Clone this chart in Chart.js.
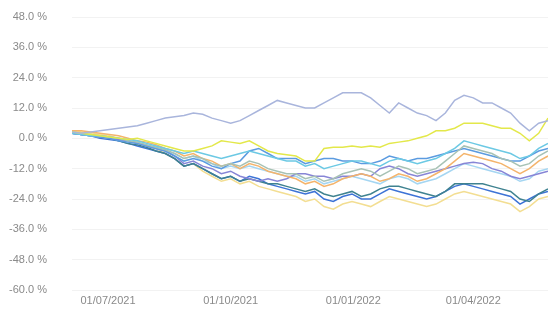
<!DOCTYPE html>
<html>
<head>
<meta charset="utf-8">
<script src="https://cdn.jsdelivr.net/npm/chart.js@4"></script>
<style>
html,body{margin:0;padding:0;background:#fff;}
#wrap{width:555px;height:311px;position:relative;}
</style>
</head>
<body>
<div id="wrap"><canvas id="c" width="555" height="311"></canvas></div>
<script>
// Weekly observation dates
const dates = [
"2021-06-04","2021-06-11","2021-06-18","2021-06-25",
"2021-07-02","2021-07-09","2021-07-16","2021-07-23","2021-07-30",
"2021-08-06","2021-08-13","2021-08-20","2021-08-27",
"2021-09-03","2021-09-10","2021-09-17","2021-09-24",
"2021-10-01","2021-10-08","2021-10-15","2021-10-22","2021-10-29",
"2021-11-05","2021-11-12","2021-11-19","2021-11-26",
"2021-12-03","2021-12-10","2021-12-17","2021-12-24","2021-12-31",
"2022-01-07","2022-01-14","2022-01-21","2022-01-28",
"2022-02-04","2022-02-11","2022-02-18","2022-02-25",
"2022-03-04","2022-03-11","2022-03-18","2022-03-25",
"2022-04-01","2022-04-08","2022-04-15","2022-04-22","2022-04-29",
"2022-05-06","2022-05-13","2022-05-20","2022-05-27"
];

// Tick dates and tick labels for the x axis
const tickDates = ["2021-07-01","2021-10-01","2022-01-01","2022-04-01"];
const tickLabels = ["01/07/2021","01/10/2021","01/01/2022","01/04/2022"];

// Y ticks (percent)
const yTicks = [48,36,24,12,0,-12,-24,-36,-48,-60];

// Series values (% performance)
const seriesA = [2.5,2,2.5,3,3.5,4,4.5,5,6,7,8,8.5,9,10,9.5,8,7,6,7,9,11,13,15,14,13,12,12,14,16,18,18,18,16,13,10,14,12,10,9,7,10,15,17,16,14,14,12,10,6,3,6,7];
const seriesB = [2.5,2,1.5,1,0.5,0,-0.5,0,-1,-2,-3,-4,-5,-5,-4,-3,-1,-1.5,-2,-1,-3,-5,-6,-6.5,-7,-9,-9,-4,-3.5,-3.5,-3,-3.5,-3,-3.5,-2,-1.5,-1,0,1,3,3,4,6,6,6,5,4,4,2,-1,2,8];
const seriesC = [2,1.5,1,1,0.5,0,-0.5,-1,-2,-3,-4,-5,-6,-5,-6,-7,-8,-7,-6,-5,-6,-7,-8,-9,-9,-11,-10,-12,-11,-10,-9,-9,-10,-11,-9,-8,-9,-10,-9,-8,-6,-4,-1,-2,-3,-4,-5,-6,-8,-7,-4,-2];
const seriesD = [2.5,2,1.5,1,0.5,0,-1,-1.5,-2.5,-3.5,-4.5,-6,-8,-7,-8,-10,-11,-10,-11,-9,-10,-12,-13,-14,-14,-16,-15,-17,-16,-14,-13,-12,-13,-15,-13,-11,-12,-14,-13,-12,-9,-6,-3,-4,-5,-6,-8,-9,-11,-10,-7,-5];
const seriesE = [3,3,2.5,2,1.5,1,0,-1,-1.5,-2.5,-4,-5,-7,-6,-8,-9,-11,-10,-12,-10,-11,-13,-14,-15,-16,-18,-17,-19,-18,-16,-15,-14,-15,-17,-16,-14,-15,-17,-16,-14,-12,-9,-6,-7,-8,-9,-10,-12,-14,-12,-9,-7];
const seriesF = [2,1.5,1,0.5,0,-1,-1.5,-2,-3,-4,-5,-7,-9,-8,-9,-11,-12,-10,-9,-5,-4,-6,-8,-8,-8,-10,-9,-8,-8,-9,-9,-10,-10,-9,-7,-8,-9,-8,-8,-7,-6,-5,-4,-5,-6,-7,-8,-9,-9,-7,-5,-4];
const seriesG = [2,1.5,1,0.5,0,-0.5,-1,-2,-3,-4,-5,-7,-10,-9,-11,-12,-14,-13,-15,-16,-17,-16,-17,-16,-14,-14,-15,-15,-16,-15,-15,-14,-15,-12,-11,-12,-14,-15,-14,-13,-12,-11,-10,-9.5,-10,-12,-13,-15,-16,-15,-14,-13];
const seriesH = [2,1.5,1,0.5,0,-1,-2,-2.5,-3.5,-5,-6,-8,-11,-10,-12,-14,-16,-15,-17,-16,-17,-18,-18,-19,-20,-21,-20,-22,-23,-22,-21,-23,-22,-20,-19,-19,-20,-21,-22,-23,-21,-18,-18,-18,-18,-19,-20,-21,-24,-25,-22,-20];
const seriesK = [2,1.5,1,0,-0.5,-1,-2,-3,-4,-5,-6,-8,-11,-10,-12,-14,-16,-15,-17,-15,-16,-18,-19,-20,-21,-22,-21,-24,-25,-23,-22,-24,-24,-22,-20,-21,-22,-23,-24,-23,-21,-19,-18,-19,-20,-21,-22,-23,-26,-24,-22,-21];
const seriesI = [3,2.5,2,1.5,1,0,-1,-1.5,-3,-4,-6,-8,-11,-10,-13,-15,-17,-16,-18,-17,-19,-20,-21,-22,-23,-25,-24,-27,-28,-26,-25,-26,-27,-25,-23,-24,-25,-26,-27,-26,-24,-22,-21,-22,-23,-24,-25,-26,-29,-27,-24,-23];
const seriesJ = [2,1.5,1,0.5,0,-0.5,-1.5,-2,-3,-4,-5,-6,-8,-7,-9,-10,-12,-11,-12,-11,-12,-13,-14,-15,-15,-17,-16,-18,-17,-16,-15,-16,-17,-18,-16,-15,-16,-18,-17,-16,-14,-12,-10,-11,-12,-13,-14,-15,-17,-16,-13,-12];

const seriesList = [
  {data: seriesA, color: "#a9b5dc"},
  {data: seriesB, color: "#e3e84a"},
  {data: seriesC, color: "#6cc9e4"},
  {data: seriesD, color: "#a7c2b5"},
  {data: seriesE, color: "#f4b46c"},
  {data: seriesF, color: "#5b9be0"},
  {data: seriesG, color: "#8785d6"},
  {data: seriesJ, color: "#a5d6f2"},
  {data: seriesH, color: "#3f8290"},
  {data: seriesK, color: "#3d73d6"},
  {data: seriesI, color: "#f3de92"}
];

const toT = s => Date.parse(s + "T00:00:00Z");
const xs = dates.map(toT);
const tickTs = tickDates.map(toT);

const datasets = seriesList.map(s => ({
  data: s.data.map((v, i) => ({x: xs[i], y: v})),
  borderColor: s.color,
  backgroundColor: s.color,
  borderWidth: 1.5,
  pointRadius: 0,
  tension: 0,
  fill: false
}));

new Chart(document.getElementById("c"), {
  type: "line",
  data: {datasets},
  options: {
    responsive: false,
    animation: false,
    events: [],
    layout: {padding: {left: 0, right: 7, top: 17, bottom: 0}},
    plugins: {legend: {display: false}, tooltip: {enabled: false}},
    scales: {
      x: {
        type: "linear",
        min: xs[0],
        max: xs[xs.length - 1],
        grid: {display: false, drawTicks: false},
        border: {display: false},
        afterBuildTicks: axis => { axis.ticks = tickTs.map(v => ({value: v})); },
        afterFit: axis => { axis.height = 21; },
        ticks: {
          autoSkip: false,
          maxRotation: 0,
          padding: 4,
          color: "#8a8a8a",
          font: {family: "Liberation Sans, Arial, sans-serif", size: 11},
          callback: (v) => { const k = tickTs.indexOf(v); return k >= 0 ? tickLabels[k] : ""; }
        }
      },
      y: {
        min: -60,
        max: 48,
        afterBuildTicks: axis => { axis.ticks = yTicks.map(v => ({value: v})); },
        afterFit: axis => { axis.width = 72; },
        grid: {color: "rgba(0,0,0,0.05)", drawTicks: true, tickLength: 22, tickColor: "rgba(0,0,0,0)"},
        border: {display: false},
        ticks: {
          padding: 3,
          color: "#8a8a8a",
          font: {family: "Liberation Sans, Arial, sans-serif", size: 11},
          callback: v => v.toFixed(1) + " %"
        }
      }
    }
  }
});
</script>
</body>
</html>
